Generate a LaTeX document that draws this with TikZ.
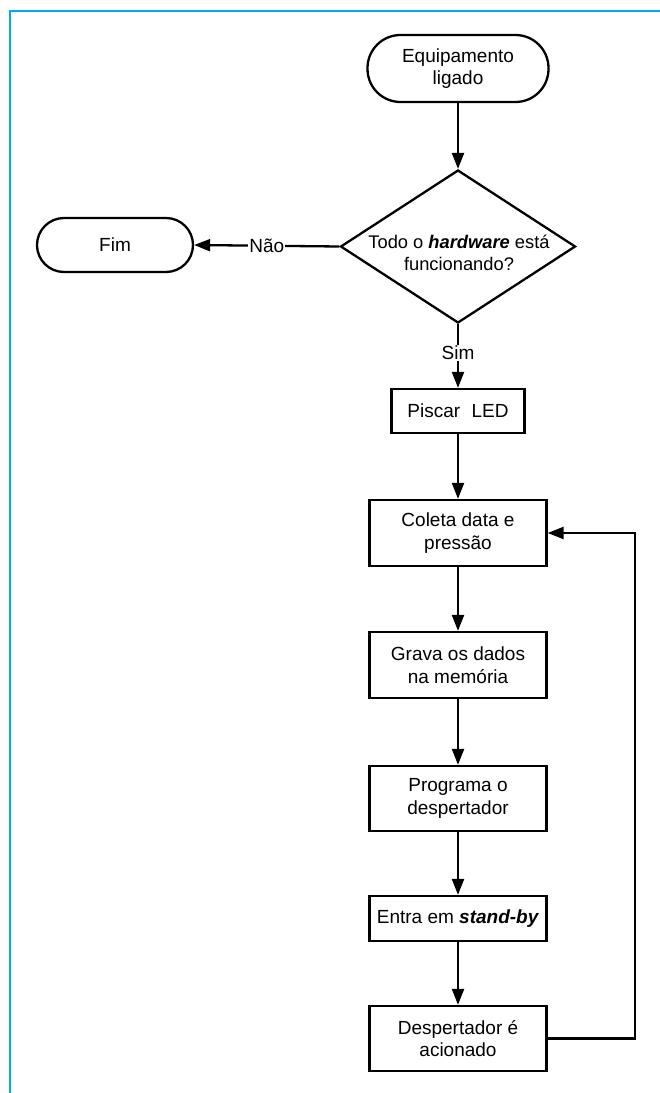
\documentclass[tikz,border=0pt]{standalone}
\usepackage{fontspec}
\setmainfont{Liberation Sans}
\usetikzlibrary{arrows.meta,shapes.geometric}
\definecolor{framecyan}{RGB}{0,172,236}
\newcommand{\fs}{\fontsize{19}{22.5}\selectfont}
\newcommand{\fsd}{\fontsize{18.3}{22.5}\selectfont}
\begin{document}
\begin{tikzpicture}[x=1pt,y=-1pt,line width=2.3pt,
  box/.style={draw,rectangle,minimum width=177pt,minimum height=66pt,align=center,font=\fs,inner sep=0pt},
  term/.style={draw,rectangle,align=center,font=\fs,inner sep=0pt},
  lbl/.style={fill=white,font=\fs,inner sep=1pt},
  arr/.style={-{Triangle[length=16pt,width=12pt]}}]
\useasboundingbox (0,0) rectangle (660,1093);
\draw[framecyan,line width=2.3pt] (10,1093) -- (10,11) -- (660,11);

\node[term,minimum width=181pt,minimum height=67pt,rounded corners=33pt] (start) at (458,68.5) {Equipamento\\ligado};
\node[draw,diamond,minimum width=235pt,minimum height=153pt,inner sep=0pt] (dec) at (458,246.5) {};
\node[align=center,font=\fsd] (dectext) at (459,253) {Todo o \textbf{\textit{hardware}} está\\funcionando?};
\node[term,minimum width=156pt,minimum height=54pt,rounded corners=27pt] (fim) at (115,245) {Fim};
\node[box,minimum width=133pt,minimum height=44pt] (piscar) at (458,411) {Piscar\hspace{0.6em}LED};
\node[box] (coleta) at (458,533) {Coleta data e\\pressão};
\node[box] (grava) at (458,665) {Grava os dados\\na memória};
\node[box,minimum height=65pt] (prog) at (458,798.5) {Programa o\\despertador};
\node[box,minimum height=45pt] (entra) at (458,918.5) {Entra em \textbf{\textit{stand-by}}};
\node[box,minimum height=65pt] (desp) at (458,1038.5) {Despertador é\\acionado};
\coordinate (c1) at (635,1038.5);
\coordinate (c2) at (635,533);

\draw[arr] (start) -- (dec.north);
\draw[arr] (dec.west) -- node[lbl,pos=0.5] {Não} (fim.east);
\draw[arr] (dec.south) -- node[lbl,pos=0.45] {Sim} (piscar.north);
\draw[arr] (piscar) -- (coleta);
\draw[arr] (coleta) -- (grava);
\draw[arr] (grava) -- (prog);
\draw[arr] (prog) -- (entra);
\draw[arr] (entra) -- (desp);
\draw[arr] (desp.east) -- (c1) -- (c2) -- (coleta.east);
\end{tikzpicture}
\end{document}
